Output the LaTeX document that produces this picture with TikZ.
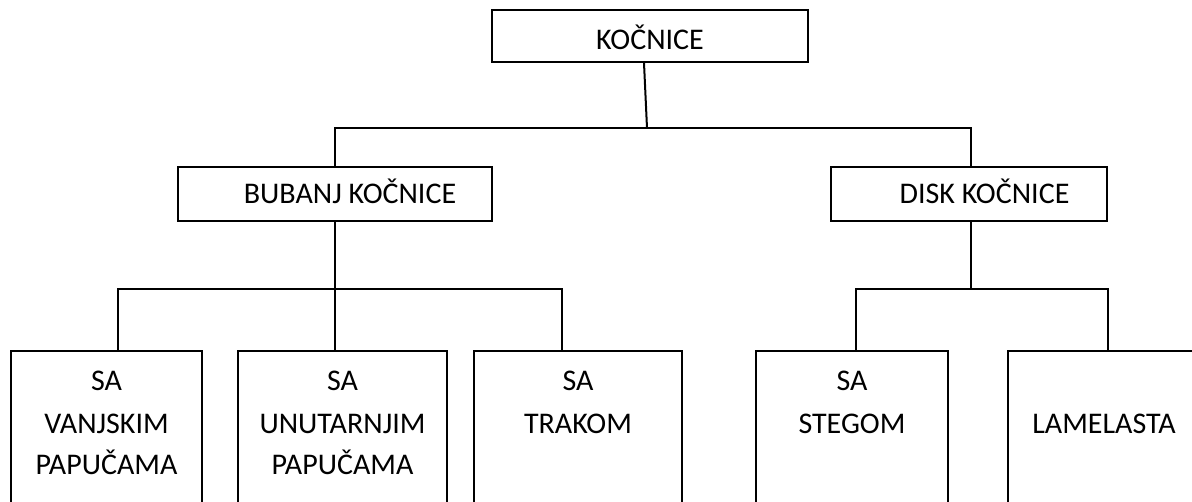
\documentclass[tikz,border=0pt]{standalone}
\usepackage{fontspec}
\setmainfont{Carlito}
\begin{document}
\begin{tikzpicture}[x=0.75pt,y=-0.75pt,
  boxnode/.style={draw, line width=1.5pt, inner sep=0pt, rectangle},
  lbl/.style={anchor=base, inner sep=0pt, font=\fontsize{22.5}{27}\selectfont},
  conn/.style={line width=1.5pt}]
\useasboundingbox (0,0) rectangle (1192,502);
\clip (0,0) rectangle (1192,502);
% boxes
\node[boxnode, minimum width={316*0.75pt}, minimum height={52*0.75pt}] (top) at (650,36) {};
\node[boxnode, minimum width={314*0.75pt}, minimum height={54*0.75pt}] (bub) at (335,194) {};
\node[boxnode, minimum width={276*0.75pt}, minimum height={54*0.75pt}] (disk) at (969,194) {};
\node[boxnode, minimum width={191*0.75pt}, minimum height={180*0.75pt}] (b1) at (106.5,441) {};
\node[boxnode, minimum width={209*0.75pt}, minimum height={180*0.75pt}] (b2) at (342.5,441) {};
\node[boxnode, minimum width={208*0.75pt}, minimum height={180*0.75pt}] (b3) at (578,441) {};
\node[boxnode, minimum width={192*0.75pt}, minimum height={180*0.75pt}] (b4) at (852,441) {};
\node[boxnode, minimum width={192*0.75pt}, minimum height={180*0.75pt}] (b5) at (1104,441) {};
% labels
\node[lbl] (ttop) at (650,50) {KOČNICE};
\node[lbl] (tbub) at (350,204) {BUBANJ KOČNICE};
\node[lbl] (tdisk) at (984.5,204) {DISK KOČNICE};
\node[lbl] (t1a) at (106.5,390) {SA};
\node[lbl] (t1b) at (106.5,433) {VANJSKIM};
\node[lbl] (t1c) at (106.5,474) {PAPUČAMA};
\node[lbl] (t2a) at (342.5,390) {SA};
\node[lbl] (t2b) at (342.5,433) {UNUTARNJIM};
\node[lbl] (t2c) at (342.5,474) {PAPUČAMA};
\node[lbl] (t3a) at (578,390) {SA};
\node[lbl] (t3b) at (578,433) {TRAKOM};
\node[lbl] (t4a) at (852,390) {SA};
\node[lbl] (t4b) at (852,433) {STEGOM};
\node[lbl] (t5a) at (1104,433) {LAMELASTA};
% junction coordinates
\coordinate (j0) at (647,128);
\coordinate (j1) at (335,289);
\coordinate (j2) at (971,289);
% connectors
\draw[conn] (top.south -| 644,0) -- (j0);
\draw[conn] (bub.north) |- (j0) -| (disk.north -| 971,0);
\draw[conn] (bub.south) -- (j1);
\draw[conn] (b1.north -| 118,0) |- (j1) -| (b3.north -| 562,0);
\draw[conn] (j1) -- (b2.north -| 335,0);
\draw[conn] (disk.south -| 971,0) -- (j2);
\draw[conn] (b4.north -| 856,0) |- (j2) -| (b5.north -| 1108,0);
\end{tikzpicture}
\end{document}
